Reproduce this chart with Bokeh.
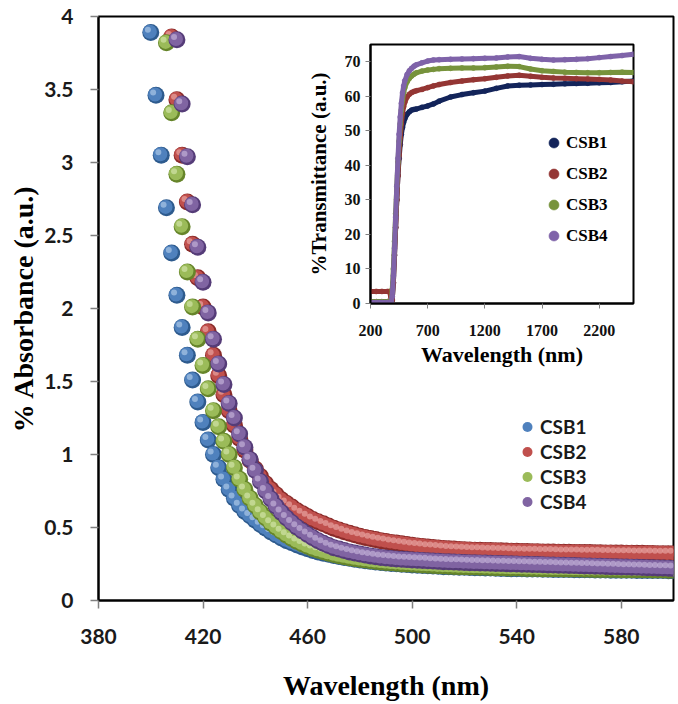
import numpy as np
from bokeh.plotting import figure
from bokeh.models import (ColumnDataSource, Range1d, FixedTicker, NumeralTickFormatter,
                          Legend, LegendItem, GridBox)
from bokeh.transform import dodge
from bokeh.embed import file_html
from bokeh.resources import INLINE

# ---------------- main chart data (absorbance, 2 nm sampling) ----------------
wavelength = list(range(400, 601, 2))
N = None
csb1_abs = [3.89, 3.46, 3.05, 2.69, 2.38,
            2.09, 1.87, 1.68, 1.51, 1.36,
            1.22, 1.10, 1.00, 0.91, 0.83,
            0.76, 0.70, 0.65, 0.61, 0.58,
            0.55, 0.52, 0.495, 0.47, 0.448,
            0.428, 0.41, 0.395, 0.38, 0.367,
            0.355, 0.343, 0.333, 0.324, 0.316,
            0.309, 0.302, 0.295, 0.289, 0.283,
            0.278, 0.273, 0.268, 0.264, 0.26,
            0.257, 0.254, 0.251, 0.248, 0.246,
            0.244, 0.242, 0.24, 0.238, 0.236,
            0.234, 0.232, 0.231, 0.229, 0.228,
            0.227, 0.226, 0.225, 0.224, 0.223,
            0.222, 0.221, 0.22, 0.219, 0.218,
            0.218, 0.217, 0.216, 0.216, 0.215,
            0.214, 0.214, 0.213, 0.213, 0.212,
            0.212, 0.211, 0.211, 0.21, 0.21,
            0.209, 0.209, 0.209, 0.208, 0.208,
            0.207, 0.207, 0.207, 0.206, 0.206,
            0.206, 0.205, 0.205, 0.205, 0.204,
            0.204]
csb2_abs = [N, N, N, N, 3.86,
            3.43, 3.05, 2.73, 2.44, 2.21,
            2.01, 1.84, 1.68, 1.54, 1.41,
            1.30, 1.20, 1.11, 1.03, 0.96,
            0.90, 0.85, 0.80, 0.76, 0.725,
            0.69, 0.665, 0.64, 0.615, 0.595,
            0.575, 0.555, 0.54, 0.525, 0.51,
            0.495, 0.483, 0.471, 0.46, 0.45,
            0.44, 0.432, 0.424, 0.417, 0.41,
            0.404, 0.398, 0.393, 0.388, 0.383,
            0.378, 0.374, 0.37, 0.366, 0.363,
            0.36, 0.357, 0.354, 0.352, 0.35,
            0.348, 0.346, 0.345, 0.344, 0.343,
            0.342, 0.341, 0.34, 0.339, 0.338,
            0.337, 0.336, 0.335, 0.334, 0.334,
            0.333, 0.332, 0.332, 0.331, 0.33,
            0.33, 0.329, 0.329, 0.328, 0.328,
            0.327, 0.327, 0.326, 0.326, 0.325,
            0.325, 0.324, 0.324, 0.323, 0.323,
            0.322, 0.322, 0.321, 0.321, 0.32,
            0.32]
csb3_abs = [N, N, N, 3.82, 3.34,
            2.92, 2.56, 2.25, 2.01, 1.79,
            1.61, 1.45, 1.30, 1.19, 1.09,
            1.00, 0.91, 0.83, 0.76, 0.70,
            0.65, 0.605, 0.565, 0.53, 0.50,
            0.472, 0.447, 0.425, 0.405, 0.387,
            0.371, 0.357, 0.345, 0.334, 0.324,
            0.315, 0.307, 0.30, 0.293, 0.287,
            0.282, 0.277, 0.272, 0.268, 0.264,
            0.261, 0.258, 0.255, 0.252, 0.25,
            0.248, 0.246, 0.244, 0.242, 0.24,
            0.238, 0.236, 0.235, 0.233, 0.232,
            0.231, 0.23, 0.229, 0.228, 0.227,
            0.226, 0.225, 0.224, 0.223, 0.222,
            0.222, 0.221, 0.22, 0.22, 0.219,
            0.218, 0.218, 0.217, 0.217, 0.216,
            0.216, 0.215, 0.215, 0.214, 0.214,
            0.213, 0.213, 0.213, 0.212, 0.212,
            0.211, 0.211, 0.211, 0.21, 0.21,
            0.21, 0.209, 0.209, 0.209, 0.208,
            0.208]
csb4_abs = [N, N, N, N, N,
            3.84, 3.40, 3.04, 2.71, 2.42,
            2.18, 1.97, 1.79, 1.62, 1.48,
            1.35, 1.25, 1.14, 1.05, 0.965,
            0.89, 0.815, 0.75, 0.695, 0.645,
            0.603, 0.565, 0.532, 0.502, 0.476,
            0.452, 0.43, 0.41, 0.392, 0.376,
            0.362, 0.352, 0.342, 0.333, 0.325,
            0.318, 0.311, 0.305, 0.30, 0.295,
            0.291, 0.288, 0.285, 0.282, 0.28,
            0.278, 0.276, 0.274, 0.272, 0.27,
            0.268, 0.266, 0.265, 0.263, 0.262,
            0.26, 0.259, 0.258, 0.257, 0.256,
            0.255, 0.254, 0.253, 0.252, 0.251,
            0.25, 0.249, 0.248, 0.247, 0.246,
            0.245, 0.244, 0.243, 0.242, 0.241,
            0.24, 0.239, 0.238, 0.237, 0.236,
            0.235, 0.234, 0.233, 0.232, 0.231,
            0.23, 0.229, 0.228, 0.227, 0.226,
            0.225, 0.224, 0.223, 0.222, 0.221,
            0.22]
series_names = ["CSB1", "CSB2", "CSB3", "CSB4"]
x_ticks = [380, 420, 460, 500, 540, 580]
y_ticks = [0, 0.5, 1, 1.5, 2, 2.5, 3, 3.5, 4]

# ---------------- inset data (transmittance) ----------------
trans_wl = [200, 250, 300, 350, 370, 380, 390, 400, 410, 420, 430, 440, 450, 460, 470,
            480, 490, 500, 520, 540, 560, 580, 600, 650, 700, 750, 800, 900, 1000, 1100,
            1200, 1300, 1400, 1500, 1600, 1700, 1800, 1900, 2000, 2100, 2200, 2300, 2400, 2500]
csb1_t = [0.5, 0.5, 0.5, 0.5, 0.5, 0.5, 1, 6, 14, 22, 30, 37, 42, 46, 49,
          51, 52.5, 53.5, 54.8, 55.5, 56, 56.2, 56.3, 56.8, 57.2, 57.8, 58.6, 59.8, 60.5, 61,
          61.5, 62.3, 63, 63.2, 63.3, 63.4, 63.5, 63.6, 63.7, 63.8, 63.9, 64, 64.2, 64.4]
csb2_t = [3.5, 3.5, 3.5, 3.5, 3.5, 0.5, 1, 6, 14, 22, 30, 37, 43, 48, 52,
          55, 57, 58.3, 59.8, 60.6, 61.1, 61.4, 61.6, 62, 62.5, 63, 63.4, 64, 64.4, 64.8,
          65.1, 65.5, 65.9, 66.1, 65.8, 65.5, 65.3, 65.2, 65.1, 65, 64.9, 64.7, 64.4, 64.2]
csb3_t = [0.5, 0.5, 0.5, 0.5, 0.5, 0.5, 4, 10, 18, 26, 34, 41, 47, 52, 56,
          59, 61, 62.5, 64.2, 65.2, 65.9, 66.4, 66.8, 67.3, 67.6, 67.8, 68, 68.1, 68.2, 68.2,
          68.3, 68.5, 68.7, 68.6, 67.9, 67.4, 67.2, 67, 66.9, 66.8, 66.8, 66.9, 67, 66.9]
csb4_t = [0.3, 0.3, 0.3, 0.3, 0.3, 0.3, 2, 8, 16, 25, 34, 42, 49, 54, 58,
          61, 63, 64.5, 66.3, 67.4, 68.1, 68.7, 69.1, 69.7, 70.2, 70.5, 70.6, 70.7, 70.8, 70.9,
          71, 71.1, 71.4, 71.5, 71, 70.7, 70.5, 70.6, 70.7, 70.9, 71.2, 71.5, 71.8, 72.2]
inset_x_ticks = [200, 700, 1200, 1700, 2200]
inset_y_ticks = [0, 10, 20, 30, 40, 50, 60, 70]

# ---------------- styles ----------------
sphere_colors = {  # (edge, body, highlight)
    "CSB1": ("#2E5B8E", "#4F81BD", "#C4DAF2"),
    "CSB2": ("#8A2B29", "#C0504D", "#F2BAB8"),
    "CSB3": ("#66852A", "#9BBB59", "#E0EFBD"),
    "CSB4": ("#553C78", "#8064A2", "#D3C5E6"),
}
inset_colors = {"CSB1": "#13245A", "CSB2": "#943634", "CSB3": "#77933C", "CSB4": "#7F63A9"}
SERIF = "Liberation Serif"
SANS = "Lato"

# ---------------- main figure ----------------
p = figure(width=678, height=704, x_range=Range1d(380, 600), y_range=Range1d(0, 4),
           output_backend="svg", toolbar_location=None,
           min_border_left=98, min_border_right=5, min_border_top=16, min_border_bottom=104)
p.background_fill_color = "white"
p.border_fill_color = "white"
p.outline_line_color = "black"
p.outline_line_width = 2
p.xgrid.visible = False
p.ygrid.visible = False

for ax in (p.xaxis[0], p.yaxis[0]):
    ax.axis_line_color = "black"
    ax.axis_line_width = 2
    ax.major_tick_line_color = "#808080"
    ax.major_tick_line_width = 1.5
    ax.major_tick_out = 8
    ax.major_tick_in = 0
    ax.minor_tick_line_color = None
    ax.major_label_text_font = SANS
    ax.major_label_text_font_style = "bold"
    ax.major_label_text_font_size = "21px"
    ax.major_label_text_color = "#1a1a1a"
    ax.axis_label_text_font = SERIF
    ax.axis_label_text_font_style = "bold"
    ax.axis_label_text_font_size = "28px"
    ax.axis_label_text_color = "black"

p.xaxis.ticker = FixedTicker(ticks=x_ticks)
p.yaxis.ticker = FixedTicker(ticks=y_ticks)
p.yaxis.formatter = NumeralTickFormatter(format="0.[0]")
p.xaxis.axis_label = "Wavelength (nm)"
p.yaxis.axis_label = "% Absorbance (a.u.)"
p.xaxis.major_label_standoff = 20
p.xaxis.axis_label_standoff = 23
p.yaxis.major_label_standoff = 17
p.yaxis.axis_label_standoff = 2

legend_items = []
for name, vals in zip(series_names, [csb1_abs, csb2_abs, csb3_abs, csb4_abs]):
    edge, body, hi = sphere_colors[name]
    src = ColumnDataSource(dict(x=wavelength, y=np.array(vals, dtype=float)))
    p.scatter("x", "y", source=src, size=17, fill_color=edge, line_color=None)
    rb = p.scatter(dodge("x", -0.35, range=None), dodge("y", 0.006, range=None), source=src,
                   size=14, fill_color=body, line_color=None)
    p.scatter(dodge("x", -1.1, range=None), dodge("y", 0.02, range=None), source=src,
              size=6, fill_color=hi, fill_alpha=0.55, line_color=None)
    legend_items.append(LegendItem(label=name, renderers=[rb]))

leg = Legend(items=legend_items, location=(416, 86), orientation="vertical",
             glyph_width=26, glyph_height=25, label_height=25, spacing=0,
             padding=0, margin=0, label_standoff=0,
             border_line_color=None, background_fill_alpha=0,
             label_text_font=SANS, label_text_font_style="bold",
             label_text_font_size="19px", label_text_color="#1a1a1a")
p.add_layout(leg)

# ---------------- inset figure ----------------
q = figure(width=340, height=345, x_range=Range1d(200, 2500), y_range=Range1d(0, 75),
           output_backend="svg", toolbar_location=None,
           min_border_left=70, min_border_right=7, min_border_top=14, min_border_bottom=72)
q.background_fill_color = "white"
q.border_fill_color = None
q.outline_line_color = "black"
q.outline_line_width = 2
q.xgrid.visible = False
q.ygrid.visible = False
for ax in (q.xaxis[0], q.yaxis[0]):
    ax.axis_line_color = "black"
    ax.axis_line_width = 2
    ax.major_tick_line_color = "#808080"
    ax.major_tick_out = 5
    ax.major_tick_in = 0
    ax.minor_tick_line_color = None
    ax.major_label_text_font = SERIF
    ax.major_label_text_font_style = "bold"
    ax.major_label_text_font_size = "16px"
    ax.major_label_text_color = "#111111"
    ax.axis_label_text_font = SERIF
    ax.axis_label_text_font_style = "bold"
    ax.axis_label_text_color = "black"
q.xaxis.ticker = FixedTicker(ticks=inset_x_ticks)
q.yaxis.ticker = FixedTicker(ticks=inset_y_ticks)
q.xaxis.axis_label = "Wavelength (nm)"
q.yaxis.axis_label = "%Transmittance (a.u.)"
q.xaxis.axis_label_text_font_size = "22px"
q.yaxis.axis_label_text_font_size = "21px"
q.xaxis.major_label_standoff = 16
q.xaxis.axis_label_standoff = 3
q.yaxis.major_label_standoff = 5
q.yaxis.axis_label_standoff = 11

inset_items = []
for name, vals in zip(series_names, [csb1_t, csb2_t, csb3_t, csb4_t]):
    c = inset_colors[name]
    src = ColumnDataSource(dict(x=trans_wl, y=vals))
    q.line("x", "y", source=src, line_color=c, line_width=5)
    rs = q.scatter("x", "y", source=src, size=5, fill_color=c, line_color=c, line_alpha=0.6)
    inset_items.append(LegendItem(label=name, renderers=[rs]))

ileg = Legend(items=inset_items, location=(171, 55), orientation="vertical",
              glyph_width=25, glyph_height=25, label_height=25, spacing=6,
              padding=0, margin=0, label_standoff=0,
              border_line_color=None, background_fill_alpha=0,
              label_text_font=SERIF, label_text_font_style="bold",
              label_text_font_size="17px", label_text_color="black")
q.add_layout(ileg)

layout = GridBox(children=[(p, 0, 0, 3, 3), (q, 1, 1)],
                 rows=["30px", "345px", "329px"], cols=["300px", "340px", "38px"])

open("out.html", "w").write(file_html(layout, INLINE))
